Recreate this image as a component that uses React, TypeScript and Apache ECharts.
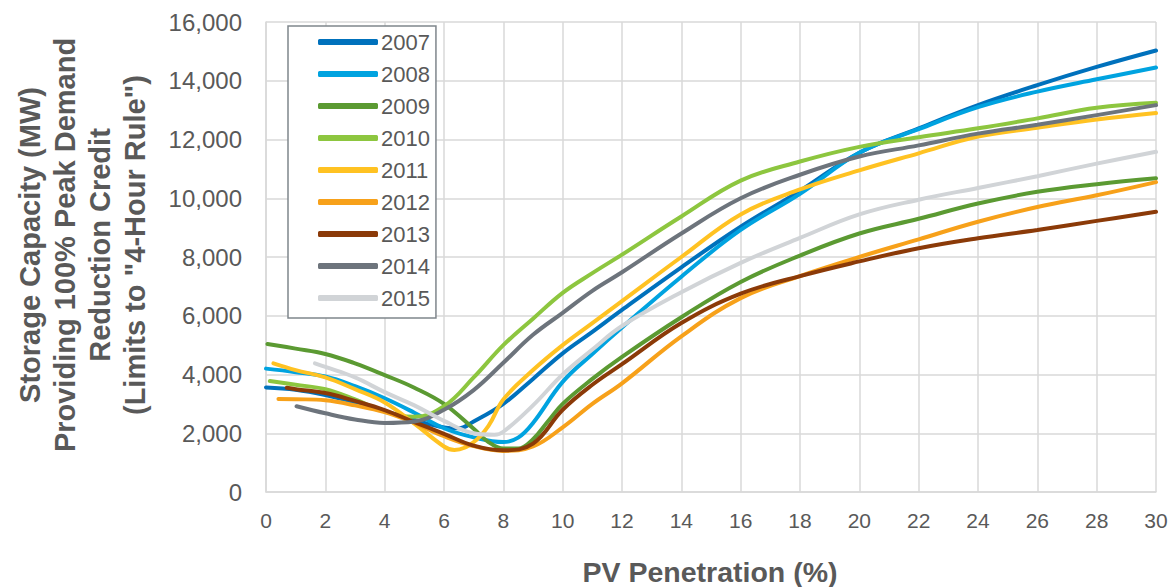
import React, { useEffect, useRef } from "react";
import * as echarts from "echarts";

const years = ["2007", "2008", "2009", "2010", "2011", "2012", "2013", "2014", "2015"];
const colors = ["#0071BC", "#00A3E0", "#5B9A32", "#8DC63F", "#FFC222", "#F7A11A", "#8B3A08", "#6D747C", "#D1D4D7"];

const x2007 = [0, 1, 2, 3, 4, 5, 6, 6.5, 7, 8, 9, 10, 11, 12, 14, 16, 18, 20, 22, 24, 26, 28, 30];
const y2007 = [3560, 3480, 3300, 3050, 2750, 2450, 2200, 2170, 2400, 3000, 3850, 4720, 5450, 6200, 7650, 9030, 10250, 11550, 12380, 13170, 13850, 14470, 15030];

const x2008 = [0, 1, 2, 3, 4, 5, 6, 7, 8, 8.5, 9, 10, 11, 12, 14, 16, 18, 20, 22, 24, 26, 28, 30];
const y2008 = [4200, 4080, 3930, 3600, 3190, 2700, 2170, 1860, 1700, 1850, 2350, 3750, 4700, 5600, 7330, 8920, 10150, 11550, 12350, 13100, 13630, 14050, 14450];

const x2009 = [0.05, 1, 2, 3, 4, 5, 6, 7, 7.5, 8, 8.5, 9, 9.5, 10, 11, 12, 14, 16, 18, 20, 22, 24, 26, 28, 30];
const y2009 = [5040, 4880, 4700, 4380, 3980, 3550, 3000, 2150, 1700, 1480, 1480, 1800, 2400, 3000, 3850, 4600, 5950, 7150, 8050, 8800, 9300, 9820, 10220, 10480, 10680];

const x2010 = [0.13, 1, 2, 3, 4, 5, 6, 7, 8, 9, 10, 11, 12, 14, 16, 18, 20, 22, 24, 26, 28, 30];
const y2010 = [3780, 3650, 3500, 3150, 2740, 2560, 2920, 3900, 5000, 5900, 6780, 7450, 8080, 9380, 10600, 11250, 11750, 12080, 12380, 12720, 13080, 13250];

const x2011 = [0.25, 1, 2, 3, 4, 5, 6, 6.35, 7, 7.5, 8, 9, 10, 11, 12, 14, 16, 18, 20, 22, 24, 26, 28, 30];
const y2011 = [4380, 4150, 3900, 3500, 3050, 2330, 1550, 1430, 1700, 2250, 3150, 4150, 5000, 5750, 6500, 8000, 9450, 10300, 10950, 11530, 12100, 12400, 12680, 12900];

const x2012 = [0.42, 1, 2, 3, 4, 5, 6, 7, 8, 9, 10, 11, 12, 14, 16, 18, 20, 22, 24, 26, 28, 30];
const y2012 = [3170, 3160, 3120, 2950, 2720, 2350, 1900, 1560, 1400, 1550, 2200, 3000, 3700, 5300, 6600, 7350, 8000, 8600, 9200, 9700, 10100, 10550];

const x2013 = [0.7, 1, 2, 3, 4, 5, 6, 7, 8, 9, 10, 11, 12, 14, 16, 18, 20, 22, 24, 26, 28, 30];
const y2013 = [3550, 3500, 3370, 3100, 2790, 2380, 1980, 1580, 1420, 1650, 2800, 3650, 4350, 5750, 6750, 7350, 7850, 8300, 8640, 8920, 9230, 9540];

const x2014 = [1.03, 2, 3, 4, 5, 6, 7, 8, 9, 10, 11, 12, 14, 16, 18, 20, 22, 24, 26, 28, 30];
const y2014 = [2920, 2680, 2470, 2350, 2400, 2800, 3470, 4400, 5350, 6100, 6850, 7480, 8800, 10000, 10800, 11420, 11800, 12200, 12500, 12830, 13170];

const x2015 = [1.65, 2, 3, 4, 5, 6, 7, 7.7, 8, 9, 10, 11, 12, 14, 16, 18, 20, 22, 24, 26, 28, 30];
const y2015 = [4380, 4260, 3900, 3400, 2950, 2420, 2000, 1950, 2050, 2950, 4000, 4850, 5650, 6800, 7800, 8650, 9450, 9950, 10350, 10750, 11180, 11580];

const xs = [x2007, x2008, x2009, x2010, x2011, x2012, x2013, x2014, x2015];
const ys = [y2007, y2008, y2009, y2010, y2011, y2012, y2013, y2014, y2015];

const yTitleLines = ["Storage Capacity (MW)", "Providing 100% Peak Demand", "Reduction Credit", '(Limits to "4-Hour Rule")'];
const xTitle = "PV Penetration (%)";

const FONT = "'Liberation Sans', Arial, sans-serif";
const TEXT = "#595959";

export default function App() {
  const ref = useRef<HTMLDivElement>(null);
  useEffect(() => {
    if (!ref.current) return;
    const chart = echarts.init(ref.current, null, { renderer: "svg" });
    const series = years.map((name, i) => ({
      name,
      type: "line",
      smooth: 0.4,
      showSymbol: false,
      symbol: "none",
      data: xs[i].map((x, j) => [x, ys[i][j]]),
      lineStyle: { color: colors[i], width: 4, cap: "round" },
      itemStyle: { color: colors[i] },
    }));
    chart.setOption({
      animation: false,
      backgroundColor: "#ffffff",
      grid: { left: 266, right: 15, top: 22, bottom: 95, containLabel: false },
      xAxis: {
        type: "value",
        min: 0,
        max: 30,
        interval: 2,
        axisLine: { show: true, lineStyle: { color: "#D9D9D9", width: 1.5 } },
        axisTick: { show: false },
        splitLine: { show: true, lineStyle: { color: "#D9D9D9", width: 1.5 } },
        axisLabel: { color: TEXT, fontSize: 21, fontFamily: FONT, margin: 18 },
      },
      yAxis: {
        type: "value",
        min: 0,
        max: 16000,
        interval: 2000,
        axisLine: { show: true, lineStyle: { color: "#D9D9D9", width: 1.5 } },
        axisTick: { show: false },
        splitLine: { show: true, lineStyle: { color: "#D9D9D9", width: 1.5 } },
        axisLabel: {
          color: TEXT,
          fontSize: 24,
          fontFamily: FONT,
          margin: 24,
          formatter: (v: number) => v.toLocaleString("en-US"),
        },
      },
      legend: {
        show: true,
        orient: "vertical",
        left: 288,
        top: 26,
        width: 166,
        data: years,
        icon: "roundRect",
        itemWidth: 60,
        itemHeight: 6,
        itemGap: 10,
        padding: [5, 6, 9, 30],
        backgroundColor: "#ffffff",
        borderColor: "#7F868C",
        borderWidth: 1.5,
        borderRadius: 0,
        textStyle: { color: TEXT, fontSize: 22, fontFamily: FONT, padding: [0, 0, 0, -2] },
      },
      graphic: [
        {
          type: "text",
          x: 82,
          y: 245,
          rotation: Math.PI / 2,
          style: {
            text: yTitleLines.join("\n"),
            font: `bold 29px ${FONT}`,
            fill: TEXT,
            textAlign: "center",
            textVerticalAlign: "middle",
            lineHeight: 35,
          },
        },
        {
          type: "text",
          x: 710,
          y: 572,
          style: {
            text: xTitle,
            font: `bold 28.5px ${FONT}`,
            fill: TEXT,
            textAlign: "center",
            textVerticalAlign: "middle",
          },
        },
      ],
      series,
    });
    return () => chart.dispose();
  }, []);
  return <div ref={ref} style={{ width: 1171, height: 587, position: "absolute", left: 0, top: 0 }} />;
}
